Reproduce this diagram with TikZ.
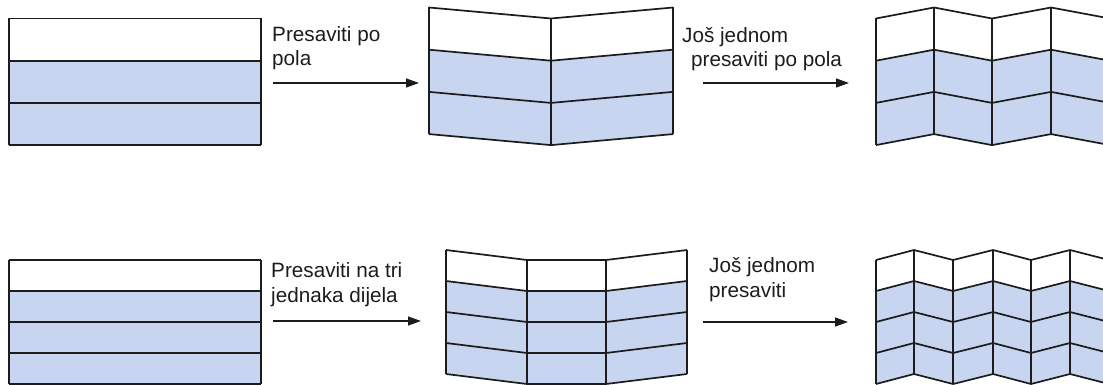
\documentclass[tikz,border=0pt]{standalone}
\usepackage{fontspec}
\setmainfont{Liberation Sans}
\usetikzlibrary{arrows.meta}
\definecolor{paperblue}{RGB}{199,213,240}
\definecolor{inkgray}{RGB}{28,28,28}
\tikzset{
  edge/.style={draw=inkgray, line width=1.7pt, line join=round},
  foldarrow/.style={draw=inkgray, line width=1.3pt, -{Triangle[length=13pt,width=9pt]}},
  lbl/.style={anchor=base west, inner sep=0pt, text=inkgray, font=\fontsize{20.7}{24}\selectfont}
}
% one panel of a strip: x1, dy1, x2, dy2 (uses \ytop, \rowh, \nrows)
\newcommand{\foldpanel}[4]{%
  \fill[white] (#1,\ytop+#2) -- (#3,\ytop+#4) -- (#3,\ytop+\rowh+#4) -- (#1,\ytop+\rowh+#2) -- cycle;
  \fill[paperblue] (#1,\ytop+\rowh+#2) -- (#3,\ytop+\rowh+#4) -- (#3,\ytop+\nrows*\rowh+#4) -- (#1,\ytop+\nrows*\rowh+#2) -- cycle;
  \foreach \k in {0,...,\nrows}
    \draw[edge] (#1,\ytop+\k*\rowh+#2) -- (#3,\ytop+\k*\rowh+#4);
  \draw[edge] (#1,\ytop+#2) -- (#1,\ytop+\nrows*\rowh+#2);
  \draw[edge] (#3,\ytop+#4) -- (#3,\ytop+\nrows*\rowh+#4);
}
\begin{document}
\begin{tikzpicture}[x=1pt, y=-1pt]
  \useasboundingbox (0,0) rectangle (1103,385);
  \begin{scope}
    \clip (0,0) rectangle (1103,385);
    % top row: folded in half, then again
    \def\ytop{18.5}\def\rowh{42.2}\def\nrows{3}
    \foldpanel{9}{0}{261}{0}
    \foreach \xa/\da/\xb/\db in {429/-11/551/0, 551/0/673/-11}
      {\foldpanel{\xa}{\da}{\xb}{\db}}
    \foreach \xa/\da/\xb/\db in {876/0/934/-11, 934/-11/992/0, 992/0/1051/-11, 1051/-11/1110/0}
      {\foldpanel{\xa}{\da}{\xb}{\db}}
    % bottom row: folded in three, then again
    \def\ytop{260}\def\rowh{31}\def\nrows{4}
    \foldpanel{9}{0}{261}{0}
    \foreach \xa/\da/\xb/\db in {446/-10/527/0, 527/0/606/0, 606/0/687/-10}
      {\foldpanel{\xa}{\da}{\xb}{\db}}
    \foreach \xa/\da/\xb/\db in {876/0/914/-10, 914/-10/953/0, 953/0/993/-10, 993/-10/1031/0, 1031/0/1070/-10, 1070/-10/1109/0}
      {\foldpanel{\xa}{\da}{\xb}{\db}}
  \end{scope}
  % labels
  \node[lbl] (pola1) at (272,42) {Presaviti po};
  \node[lbl] (pola2) at (272,66) {pola};
  \node[lbl] (again1) at (682,43) {Još jednom};
  \node[lbl] (again2) at (691,67) {presaviti po pola};
  \node[lbl] (tri1) at (271,277) {Presaviti na tri};
  \node[lbl] (tri2) at (271,302) {jednaka dijela};
  \node[lbl] (twice1) at (709,272) {Još jednom};
  \node[lbl] (twice2) at (709,297) {presaviti};
  % arrows
  \coordinate (arrA) at (273,83);
  \coordinate (arrAend) at (419,83);
  \coordinate (arrB) at (703,83);
  \coordinate (arrBend) at (849,83);
  \coordinate (arrC) at (273,321);
  \coordinate (arrCend) at (421,321);
  \coordinate (arrD) at (703,322);
  \coordinate (arrDend) at (848,322);
  \draw[foldarrow] (arrA) -- (arrAend);
  \draw[foldarrow] (arrB) -- (arrBend);
  \draw[foldarrow] (arrC) -- (arrCend);
  \draw[foldarrow] (arrD) -- (arrDend);
\end{tikzpicture}
\end{document}
